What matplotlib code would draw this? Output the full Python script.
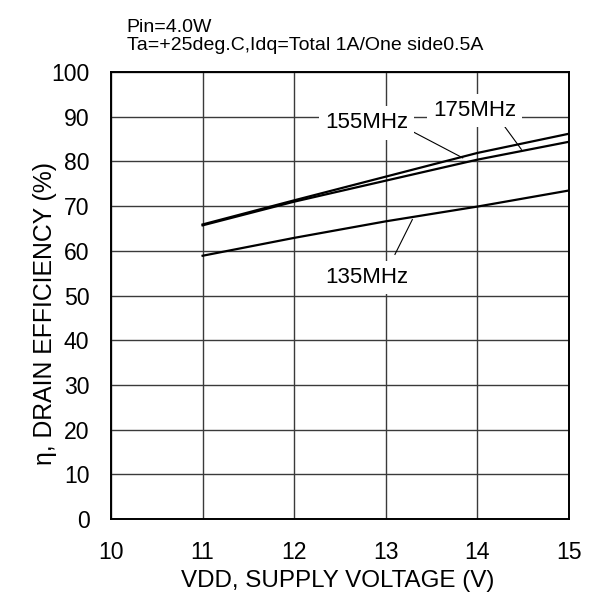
import numpy as np
import matplotlib
matplotlib.use("Agg")
import matplotlib.pyplot as plt

plt.rcParams['font.family'] = ['Liberation Sans', 'DejaVu Sans']

# supply voltage (V)
vdd = [11, 12, 13, 14, 15]
# drain efficiency (%) per frequency
eff_135 = [58.9, 62.9, 66.6, 69.9, 73.5]
eff_155 = [65.9, 71.3, 76.6, 81.9, 86.2]
eff_175 = [65.7, 71.0, 75.7, 80.4, 84.4]

fig = plt.figure(figsize=(6.01, 5.92), dpi=100)
ax = fig.add_axes([0.1847, 0.1233, 0.762, 0.755])

ax.plot(vdd, eff_155, color='black', lw=1.6, zorder=3)
ax.plot(vdd, eff_175, color='black', lw=1.6, zorder=3)
ax.plot(vdd, eff_135, color='black', lw=1.6, zorder=3)

ax.set_xlim(10, 15)
ax.set_ylim(0, 100)
ax.set_xticks(range(10, 16))
ax.set_yticks(range(0, 101, 10))
ax.grid(True, color='#3a3a3a', lw=1.0)
ax.set_axisbelow(True)
ax.tick_params(length=0, labelsize=16.6, pad=15.5)
for s in ax.spines.values():
    s.set_linewidth(1.4)

ax.set_xlabel('VDD, SUPPLY VOLTAGE (V)', fontsize=17.4, va='baseline')
ax.xaxis.set_label_coords(0.4956, -0.1515)
ax.set_ylabel('η, DRAIN EFFICIENCY (%)', fontsize=17.8)
ax.yaxis.set_label_coords(-0.118, 0.46)

box = dict(facecolor='white', edgecolor='none', pad=4.5)
# leader lines
ax.plot([13.30, 13.84], [86.6, 80.8], color='black', lw=0.8, zorder=4)
ax.plot([14.28, 14.48], [88.3, 82.7], color='black', lw=0.8, zorder=4)
ax.plot([13.29, 13.10], [67.0, 59.2], color='black', lw=0.8, zorder=4)
ax.text(12.79, 87.4, '155MHz', fontsize=16, ha='center', va='baseline', bbox=box, zorder=5)
ax.text(13.97, 90.2, '175MHz', fontsize=16, ha='center', va='baseline', bbox=box, zorder=5)
ax.text(12.79, 52.8, '135MHz', fontsize=16, ha='center', va='baseline', bbox=box, zorder=5)

fig.text(126.7 / 601, 1 - 31.7 / 592, 'Pin=4.0W', fontsize=14, va='baseline')
fig.text(126.7 / 601, 1 - 50 / 592, 'Ta=+25deg.C,Idq=Total 1A/One side0.5A', fontsize=14, va='baseline')

fig.savefig('out.png', dpi=100)
